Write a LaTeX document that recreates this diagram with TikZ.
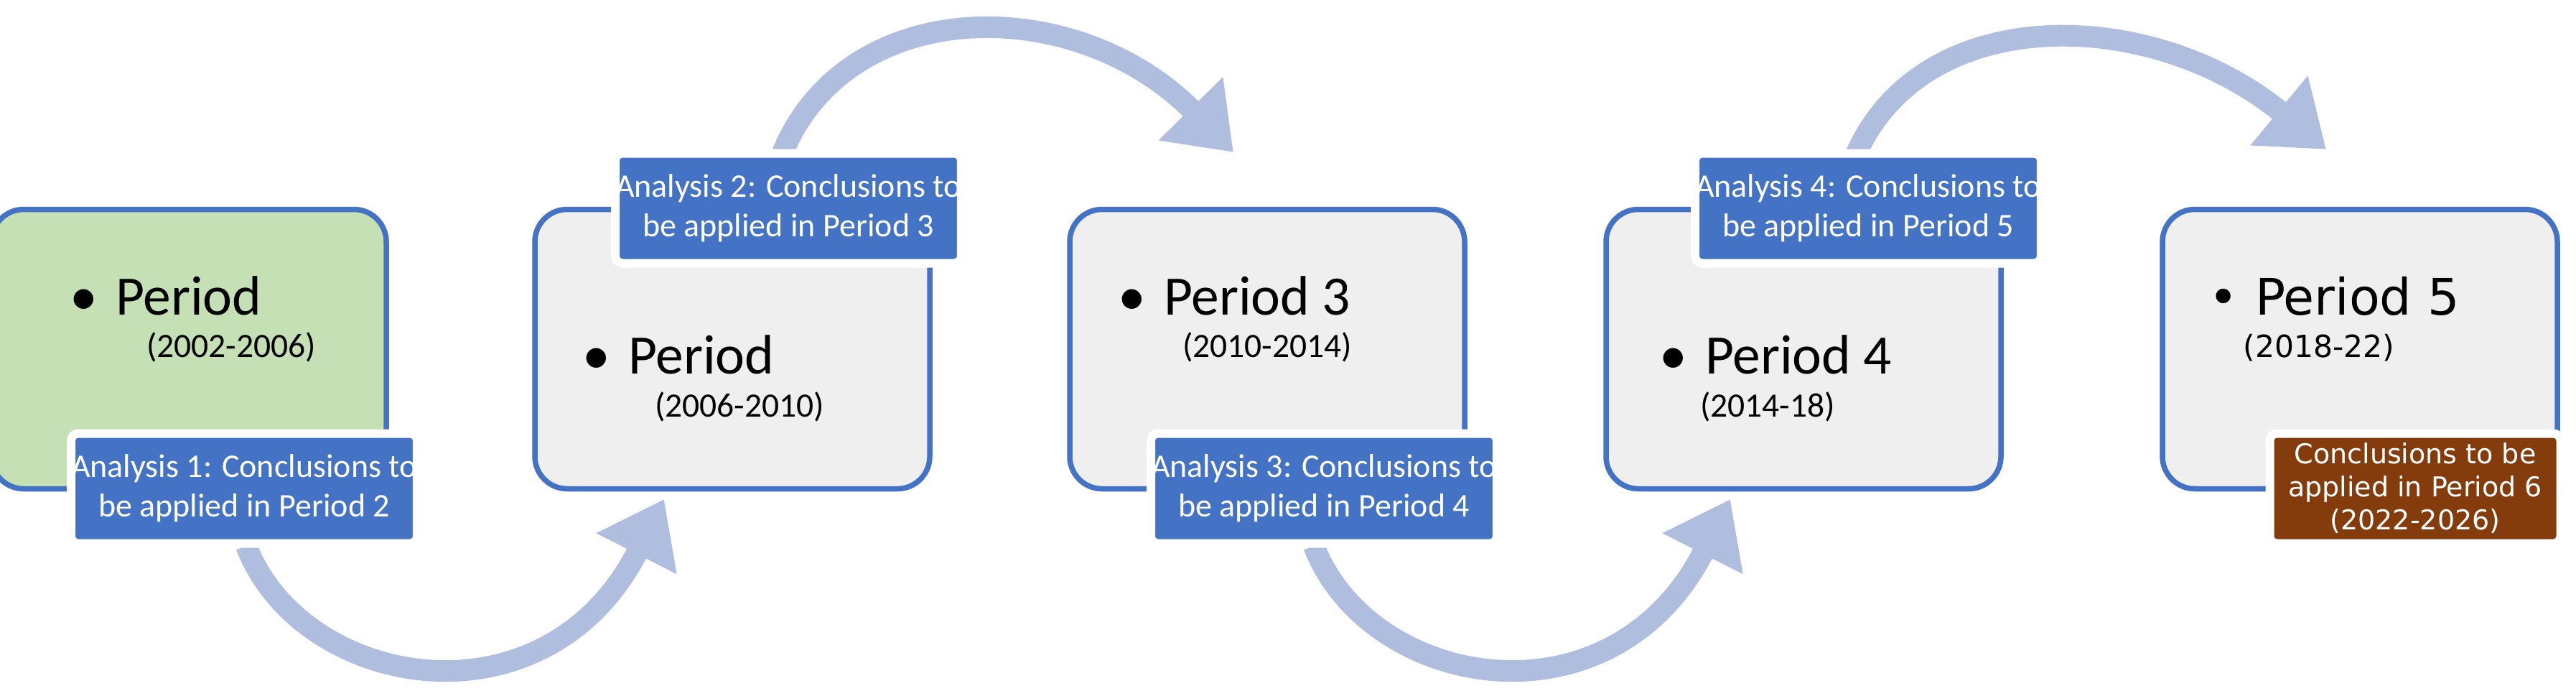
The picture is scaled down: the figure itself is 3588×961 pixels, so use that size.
\documentclass[tikz,border=0pt]{standalone}
\usepackage{fontspec}
\setmainfont{Carlito}
\newfontfamily\wide{DejaVu Sans}
\usetikzlibrary{arrows.meta}
\definecolor{bord}{HTML}{4472C4}
\definecolor{grn}{HTML}{C5E0B4}
\definecolor{gry}{HTML}{EFEFEF}
\definecolor{arr}{HTML}{AFBDDE}
\definecolor{brn}{HTML}{843C0C}
\begin{document}
\begin{tikzpicture}[x=0.2pt,y=-0.2pt,
  periodbox/.style={draw=bord,line width=1.5pt,rounded corners=9pt,minimum width=110pt,minimum height=77.8pt,inner sep=0pt},
  labelbox/.style={fill=bord,draw=white,line width=2.4pt,rounded corners=2pt,minimum width=94.6pt,minimum height=30.6pt,inner sep=0pt,text=white,align=center,font=\fontsize{9.2}{11}\selectfont},
  bigtxt/.style={anchor=base west,inner sep=0pt,font=\fontsize{15.5}{18}\selectfont},
  yeartxt/.style={anchor=base,inner sep=0pt,font=\fontsize{9.5}{11}\selectfont},
  bul/.style={anchor=base east,inner sep=0pt,font=\fontsize{15.5}{18}\selectfont},
  flow/.style={draw=arr,line width=6pt,-{Triangle[length=17pt,width=24pt]}}]
\useasboundingbox (0,0) rectangle (3588,961);
% arrows
\coordinate (a1s) at (343,760); \coordinate (a1e) at (925,695);
\coordinate (a2s) at (1089,215); \coordinate (a2e) at (1718,212);
\coordinate (a3s) at (1830,760); \coordinate (a3e) at (2410,695);
\coordinate (a4s) at (2585,215); \coordinate (a4e) at (3240,208);
\draw[flow] (a1s) .. controls (420,960) and (760,1020) .. (a1e);
\draw[flow] (a2s) .. controls (1180,-10) and (1500,-10) .. (a2e);
\draw[flow] (a3s) .. controls (1907,960) and (2245,1020) .. (a3e);
\draw[flow] (a4s) .. controls (2680,0) and (3000,10) .. (a4e);
% boxes
\node[periodbox,fill=grn] (b1) at (263,486) {};
\node[periodbox,fill=gry] (b2) at (1020,486) {};
\node[periodbox,fill=gry] (b3) at (1765,486) {};
\node[periodbox,fill=gry] (b4) at (2512,486) {};
\node[periodbox,fill=gry] (b5) at (3287,486) {};
% texts
\node[bul] (u1) at (150,438) {•\,}; \node[bigtxt] (p1) at (160,438) {Period};
\node[yeartxt] (y1) at (322,497) {(2002-2006)};
\node[bul] (u2) at (864,520) {•\,}; \node[bigtxt] (p2) at (874,520) {Period};
\node[yeartxt] (y2) at (1030,580) {(2006-2010)};
\node[bul] (u3) at (1610,438) {•\,}; \node[bigtxt] (p3) at (1620,438) {Period 3};
\node[yeartxt] (y3) at (1765,497) {(2010-2014)};
\node[bul] (u4) at (2364,520) {•\,}; \node[bigtxt] (p4) at (2374,520) {Period 4};
\node[yeartxt] (y4) at (2462,580) {(2014-18)};
\node[bul] (u5) at (3130,438) {\wide\fontsize{14}{16}\selectfont•\,}; \node[bigtxt,font=\wide\fontsize{14}{16}\selectfont] (p5) at (3140,438) {Period 5};
\node[yeartxt,font=\wide\fontsize{8.5}{10}\selectfont] (y5) at (3230,497) {(2018-22)};
% labels
\node[labelbox] (l1) at (340,680) {Analysis 1: Conclusions to\\be applied in Period 2};
\node[labelbox] (l2) at (1098,290) {Analysis 2: Conclusions to\\be applied in Period 3};
\node[labelbox] (l3) at (1844,680) {Analysis 3: Conclusions to\\be applied in Period 4};
\node[labelbox] (l4) at (2602,290) {Analysis 4: Conclusions to\\be applied in Period 5};
\node[labelbox,fill=brn,minimum width=81pt,font=\wide\fontsize{7.6}{9.2}\selectfont] (l5) at (3364,680) {Conclusions to be\\applied in Period 6\\(2022-2026)};
\end{tikzpicture}
\end{document}
